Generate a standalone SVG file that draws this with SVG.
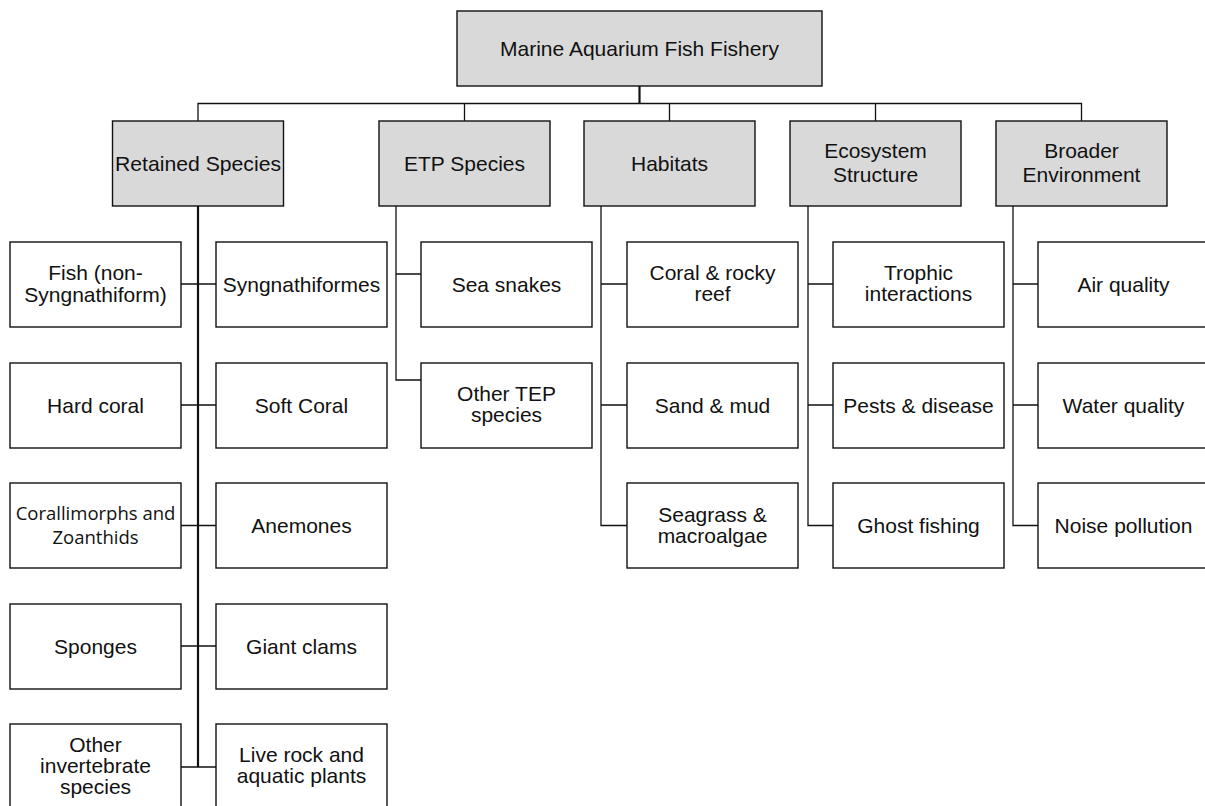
<svg xmlns="http://www.w3.org/2000/svg" width="1205" height="806" viewBox="0 0 1205 806">
<style>
.box{fill:#ffffff;stroke:#111;stroke-width:1.4}
.hdr{fill:#d9d9d9;stroke:#111;stroke-width:1.4}
.t{font-family:"Liberation Sans",Arial,sans-serif;font-size:21px;fill:#111;text-anchor:middle}
.c{font-family:"Open Sans","Noto Sans",sans-serif;font-size:18.5px;fill:#111;text-anchor:middle}
.ln{fill:none;stroke:#111;stroke-width:1.3}
.thick{fill:none;stroke:#111;stroke-width:2.2}
</style>
<rect width="1205" height="806" fill="#ffffff"/>
<g id="connectors">
<path class="thick" d="M639.5 86 V104"/>
<path class="ln" d="M198 121 V103.5 H1081.5 V121 M464.5 103.5 V121 M669.5 103.5 V121 M875.5 103.5 V121"/>
<path class="thick" d="M198 206 V767"/>
<path class="ln" d="M181 284 H216 M181 405 H216 M181 525.5 H216 M181 646 H216 M181 767 H216"/>
<path class="ln" d="M396 206 V380 H421 M396 274 H421"/>
<path class="ln" d="M601 206 V525.5 H627 M601 284 H627 M601 405 H627"/>
<path class="ln" d="M808 206 V525.5 H833 M808 284 H833 M808 405 H833"/>
<path class="ln" d="M1013 206 V525.5 H1038 M1013 284 H1038 M1013 405 H1038"/>
</g>
<g id="root"><rect class="hdr" x="457" y="11" width="365" height="75"/><text class="t" x="639.5" y="56">Marine Aquarium Fish Fishery</text></g>
<g id="retained"><rect class="hdr" x="112.5" y="121" width="171" height="85"/><text class="t" x="198" y="171" textLength="166" lengthAdjust="spacingAndGlyphs">Retained Species</text></g>
<g id="etp"><rect class="hdr" x="379" y="121" width="171" height="85"/><text class="t" x="464.5" y="171">ETP Species</text></g>
<g id="habitats"><rect class="hdr" x="584" y="121" width="171" height="85"/><text class="t" x="669.5" y="171">Habitats</text></g>
<g id="ecosystem"><rect class="hdr" x="790" y="121" width="171" height="85"/><text class="t" x="875.5" y="158">Ecosystem</text><text class="t" x="875.5" y="181.5">Structure</text></g>
<g id="broader"><rect class="hdr" x="996" y="121" width="171" height="85"/><text class="t" x="1081.5" y="158">Broader</text><text class="t" x="1081.5" y="181.5">Environment</text></g>

<g id="fish"><rect class="box" x="10" y="242" width="171" height="85"/><text class="t" x="95.5" y="280">Fish (non-</text><text class="t" x="95.5" y="301.5">Syngnathiform)</text></g>
<g id="syngnathiformes"><rect class="box" x="216" y="242" width="171" height="85"/><text class="t" x="301.5" y="292">Syngnathiformes</text></g>
<g id="hardcoral"><rect class="box" x="10" y="363" width="171" height="85"/><text class="t" x="95.5" y="412.5">Hard coral</text></g>
<g id="softcoral"><rect class="box" x="216" y="363" width="171" height="85"/><text class="t" x="301.5" y="412.5">Soft Coral</text></g>
<g id="corallimorphs"><rect class="box" x="10" y="483" width="171" height="85"/><text class="c" x="95.5" y="519.5">Corallimorphs and</text><text class="c" x="95.5" y="543.5">Zoanthids</text></g>
<g id="anemones"><rect class="box" x="216" y="483" width="171" height="85"/><text class="t" x="301.5" y="533">Anemones</text></g>
<g id="sponges"><rect class="box" x="10" y="604" width="171" height="85"/><text class="t" x="95.5" y="653.5">Sponges</text></g>
<g id="giantclams"><rect class="box" x="216" y="604" width="171" height="85"/><text class="t" x="301.5" y="653.5">Giant clams</text></g>
<g id="otherinvert"><rect class="box" x="10" y="724" width="171" height="86"/><text class="t" x="95.5" y="752">Other</text><text class="t" x="95.5" y="773">invertebrate</text><text class="t" x="95.5" y="794">species</text></g>
<g id="liverock"><rect class="box" x="216" y="724" width="171" height="86"/><text class="t" x="301.5" y="762">Live rock and</text><text class="t" x="301.5" y="783">aquatic plants</text></g>

<g id="seasnakes"><rect class="box" x="421" y="242" width="171" height="85"/><text class="t" x="506.5" y="292">Sea snakes</text></g>
<g id="othertep"><rect class="box" x="421" y="363" width="171" height="85"/><text class="t" x="506.5" y="400.5">Other TEP</text><text class="t" x="506.5" y="421.5">species</text></g>

<g id="coralreef"><rect class="box" x="627" y="242" width="171" height="85"/><text class="t" x="712.5" y="280">Coral &amp; rocky</text><text class="t" x="712.5" y="301">reef</text></g>
<g id="sandmud"><rect class="box" x="627" y="363" width="171" height="85"/><text class="t" x="712.5" y="412.5">Sand &amp; mud</text></g>
<g id="seagrass"><rect class="box" x="627" y="483" width="171" height="85"/><text class="t" x="712.5" y="521.5">Seagrass &amp;</text><text class="t" x="712.5" y="542.5">macroalgae</text></g>

<g id="trophic"><rect class="box" x="833" y="242" width="171" height="85"/><text class="t" x="918.5" y="280">Trophic</text><text class="t" x="918.5" y="301">interactions</text></g>
<g id="pests"><rect class="box" x="833" y="363" width="171" height="85"/><text class="t" x="918.5" y="412.5">Pests &amp; disease</text></g>
<g id="ghost"><rect class="box" x="833" y="483" width="171" height="85"/><text class="t" x="918.5" y="533">Ghost fishing</text></g>

<g id="air"><rect class="box" x="1038" y="242" width="171" height="85"/><text class="t" x="1123.5" y="292">Air quality</text></g>
<g id="water"><rect class="box" x="1038" y="363" width="171" height="85"/><text class="t" x="1123.5" y="412.5">Water quality</text></g>
<g id="noise"><rect class="box" x="1038" y="483" width="171" height="85"/><text class="t" x="1123.5" y="533">Noise pollution</text></g>
</svg>
